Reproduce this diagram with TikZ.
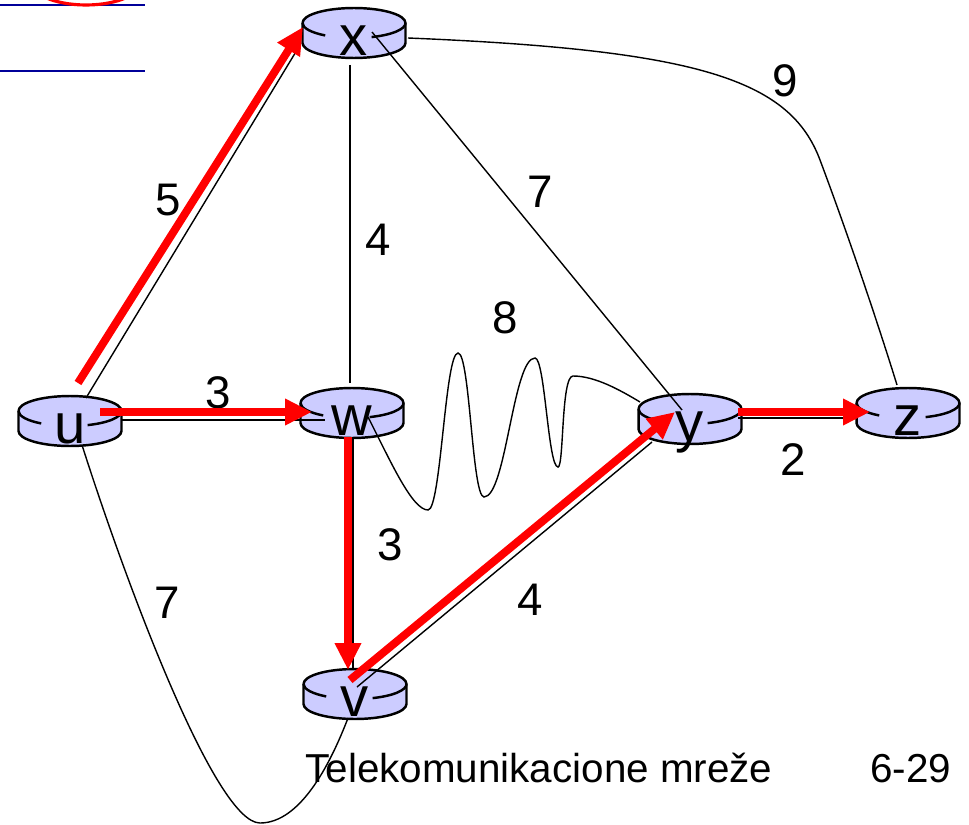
\documentclass[tikz,border=0pt]{standalone}
\usepackage{fontspec}
\setmainfont{Liberation Sans}
\usepackage{tikz}
\usetikzlibrary{arrows.meta,calc}
\definecolor{routerblue}{RGB}{204,204,255}
\definecolor{slideblue}{RGB}{0,0,153}
\tikzset{
  router/.style={
    minimum width=2.3cm,
    minimum height=1.44cm,
    inner sep=0pt,
    text height=16.6pt,
    text depth=0pt,
    font=\fontsize{32}{36}\selectfont,
    path picture={
      \draw[line width=1.4pt,fill=routerblue]
        ([shift={(-1.03cm,0.36cm)}]path picture bounding box.center)
        -- ++(0,-0.4cm)
        arc[start angle=180,end angle=360,x radius=1.03cm,y radius=0.3cm]
        -- ++(0,0.4cm)
        arc[start angle=0,end angle=180,x radius=1.03cm,y radius=0.3cm];
      \draw[line width=1.4pt]
        ([shift={(-1.03cm,0.36cm)}]path picture bounding box.center)
        arc[start angle=180,end angle=236,x radius=1.03cm,y radius=0.3cm];
      \draw[line width=1.4pt]
        ([shift={(1.03cm,0.36cm)}]path picture bounding box.center)
        arc[start angle=0,end angle=-70,x radius=1.03cm,y radius=0.3cm];
    }
  },
  link/.style={line width=0.8pt},
  route/.style={red,line width=4.5pt,-{Triangle[length=0.54cm,width=0.5cm]}},
  cost/.style={font=\fontsize{26}{30}\selectfont,inner sep=0pt},
  footer/.style={font=\fontsize{23}{27}\selectfont,inner sep=0pt,anchor=base west},
  slideline/.style={slideblue,line width=1.7pt}
}
\begin{document}
\begin{tikzpicture}[x=0.02cm,y=-0.02cm]
  \useasboundingbox (0,0) rectangle (969,824);
  \clip (0,0) rectangle (969,824);
  \draw[slideline] (0,5) -- (145,5);
  \draw[slideline] (0,71) -- (145,71);
  \draw[red,line width=1.8pt] (86,-20) ellipse [x radius=1.14cm,y radius=0.5cm];

  \node[router] (u) at (70,429) {u};
  \node[router] (x) at (354,41) {x};
  \node[router] (w) at (352,421) {w};
  \node[router] (y) at (690,427) {y};
  \node[router] (z) at (908,421) {z};
  \node[router] (v) at (355,702) {v};

  \draw[link] ($(u)+(16,-31)$) -- ($(x)+(-57,9)$);
  \draw[link] ($(u)+(52,-9)$) -- ($(w)+(-27,-1)$);
  \draw[link] ($(x)+(-4,24)$) -- ($(w)+(-2,-38)$);
  \draw[link] ($(x)+(18,-9)$) -- ($(y)+(-8,-17)$);
  \draw[link] ($(x)+(54,-3)$) .. controls (700,50) and (790,80) .. (820,160)
    .. controls (850,240) and (880,330) .. ($(z)+(-11,-36)$);
  \draw[link] ($(w)+(16,-4)$) .. controls (390,460) and (412,510) .. (428,510)
    .. controls (441,510) and (445,353) .. (458,353)
    .. controls (470,353) and (472,497) .. (484,497)
    .. controls (506,497) and (513,358) .. (535,358)
    .. controls (545,358) and (548,467) .. (558,467)
    .. controls (564,467) and (561,376) .. (573,376)
    .. controls (595,376) and (620,390) .. ($(y)+(-50,-25)$);
  \draw[link] ($(w)+(1,16)$) -- ($(v)+(-2,-34)$);
  \draw[link] ($(v)+(2,-15)$) -- ($(y)+(-38,15)$);
  \draw[link] ($(y)+(48,-9)$) -- ($(z)+(-51,-3)$);
  \draw[link] ($(u)+(12,16)$) .. controls (125,580) and (215,823) .. (260,823)
    .. controls (300,823) and (330,765) .. ($(v)+(-7,16)$);

  \node[cost] (cux) at (168,200) {5};
  \node[cost] (cxw) at (378,240) {4};
  \node[cost] (cxy) at (540,192) {7};
  \node[cost] (cxz) at (785,81) {9};
  \node[cost] (cuw) at (218,393) {3};
  \node[cost] (cwy) at (505,318) {8};
  \node[cost] (cwv) at (390,545) {3};
  \node[cost] (cvy) at (530,600) {4};
  \node[cost] (cyz) at (793,460) {2};
  \node[cost] (cuv) at (167,603) {7};

  \draw[route] ($(u)+(8,-46)$) -- ($(x)+(-51,-14)$);
  \draw[route] ($(u)+(30,-17)$) -- ($(w)+(-40,-9)$);
  \draw[route] ($(w)+(-4,16)$) -- ($(v)+(-7,-32)$);
  \draw[route] ($(v)+(-5,-22)$) -- ($(y)+(-15,-15)$);
  \draw[route] ($(y)+(48,-15)$) -- ($(z)+(-38,-9)$);

  \node[footer] (title) at (305,782) {Telekomunikacione mreže};
  \node[footer] (page) at (870,782) {6-29};
\end{tikzpicture}
\end{document}
